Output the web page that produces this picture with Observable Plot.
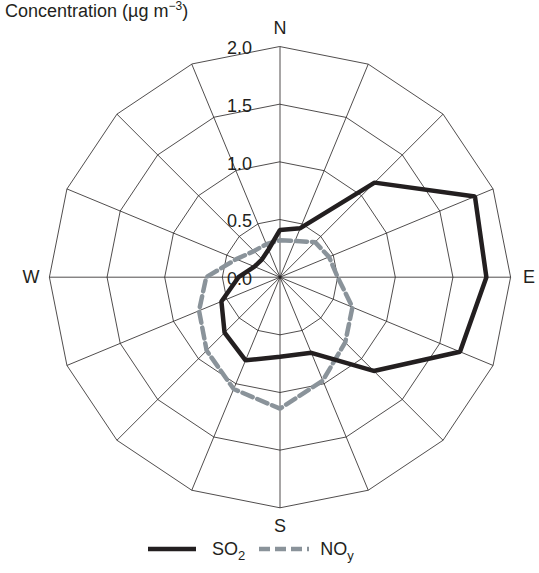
<!DOCTYPE html>
<html><head><meta charset="utf-8">
<script src="https://cdn.jsdelivr.net/npm/d3@7"></script>
<script src="https://cdn.jsdelivr.net/npm/@observablehq/plot@0.6"></script>
<style>
body{margin:0;background:#fff;font-family:"Liberation Sans",Arial,sans-serif;color:#231f20}
#wrap{position:relative;width:539px;height:573px;overflow:hidden}
#chart{position:absolute;left:0;top:0}
#title{position:absolute;left:5px;top:1px;font-size:18px;white-space:nowrap}
#title sup{font-size:12px;vertical-align:7px;line-height:0}
#legend{position:absolute;left:148px;top:537px;display:flex;align-items:center;font-size:18px;height:24px}
#legend sub{font-size:13px;vertical-align:-5px;line-height:0}
</style></head><body>
<div id="wrap">
<div id="chart"></div>
<div id="title">Concentration (µg m<sup>−3</sup>)</div>
<div id="legend">
<svg width="48" height="8"><line x1="0" x2="48" y1="4" y2="4" stroke="#231f20" stroke-width="4.5"/></svg>
<span style="margin-left:16px">SO<sub>2</sub></span>
<svg width="50" height="8" style="margin-left:14px"><line x1="0" x2="50" y1="4" y2="4" stroke="#8a939a" stroke-width="4.5" stroke-dasharray="11,5"/></svg>
<span style="margin-left:11px">NO<sub>y</sub></span>
</div>
</div>
<script>
// 16 wind directions, clockwise from north
const directions = ["N","NNE","NE","ENE","E","ESE","SE","SSE","S","SSW","SW","WSW","W","WNW","NW","NNW"];
// Concentration (µg m-3) per direction
const so2 = [0.41,0.46,1.16,1.83,1.79,1.69,1.15,0.71,0.69,0.78,0.68,0.55,0.36,0.24,0.22,0.26];
const noy = [0.32,0.34,0.43,0.46,0.50,0.68,0.80,0.97,1.14,1.05,0.90,0.76,0.64,0.41,0.32,0.31];
// rings and tick labels
const rings = [0.5,1.0,1.5,2.0];
const tickValues = [0.0,0.5,1.0,1.5,2.0];
const tickLabels = ["0.0","0.5","1.0","1.5","2.0"];
const compass = ["N","E","S","W"];
const compassIndex = [0,4,8,12];

const ang = i => i * 2 * Math.PI / directions.length;
const px = (r, i) => r * Math.sin(ang(i));
const py = (r, i) => r * Math.cos(ang(i));

const gridPts = rings.flatMap(r => directions.map((d, i) => ({r, i})));
const seriesPts = [
  ...so2.map((v, i) => ({name: "SO2", v, i})),
  ...noy.map((v, i) => ({name: "NOy", v, i}))
];
const labelR = 2.16;
const C = {x: 279.5, y: 276.7}, K = 115.3;

const chart = Plot.plot({
  width: 539,
  height: 573,
  margin: 0,
  x: {domain: [-2, 2], range: [C.x - 2 * K, C.x + 2 * K], axis: null},
  y: {domain: [-2, 2], range: [C.y + 2 * K, C.y - 2 * K], axis: null},
  style: {fontFamily: '"Liberation Sans", Arial, sans-serif', fontSize: "18px", color: "#231f20", background: "white"},
  marks: [
    Plot.text(tickValues, {x: () => 0, y: d => d, text: (d, k) => tickLabels[k], textAnchor: "end", dx: -28, dy: 2, fill: "#231f20", fontSize: 18}),
    Plot.line(gridPts, {x: d => px(d.r, d.i), y: d => py(d.r, d.i), z: "r", curve: "linear-closed", stroke: "#231f20", strokeWidth: 0.8}),
    Plot.link(directions, {x1: () => 0, y1: () => 0, x2: (d, i) => px(2, i), y2: (d, i) => py(2, i), stroke: "#231f20", strokeWidth: 0.8}),
    Plot.text(compass, {x: (d, k) => px(labelR, compassIndex[k]), y: (d, k) => py(labelR, compassIndex[k]), text: d => d, fill: "#231f20", fontSize: 18}),
    Plot.line(seriesPts.filter(d => d.name === "NOy"), {x: d => px(d.v, d.i), y: d => py(d.v, d.i), curve: "linear-closed", stroke: "#8a939a", strokeWidth: 4.5, strokeDasharray: "11,5", strokeLinejoin: "miter"}),
    Plot.line(seriesPts.filter(d => d.name === "SO2"), {x: d => px(d.v, d.i), y: d => py(d.v, d.i), curve: "linear-closed", stroke: "#231f20", strokeWidth: 4.5, strokeLinejoin: "miter"})
  ]
});
document.getElementById("chart").appendChild(chart);
</script>
</body></html>
